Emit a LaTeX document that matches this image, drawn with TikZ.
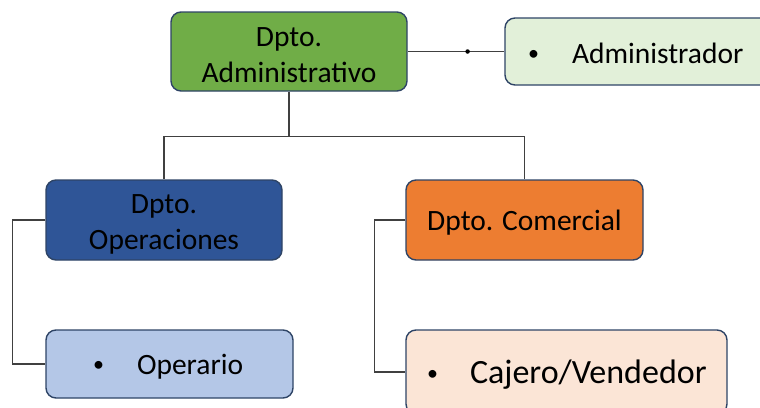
\documentclass[tikz,border=0pt]{standalone}
\usepackage{fontspec}
\setmainfont{Carlito}
\definecolor{boxline}{HTML}{2E4466}
\definecolor{linegray}{HTML}{404040}
\definecolor{admgreen}{HTML}{70AD47}
\definecolor{admlight}{HTML}{E2F0D9}
\definecolor{opblue}{HTML}{2F5597}
\definecolor{oplight}{HTML}{B4C7E7}
\definecolor{comorange}{HTML}{ED7D31}
\definecolor{comlight}{HTML}{FBE5D6}
\newcommand{\itemdot}[1]{\makebox[#1][l]{\raisebox{3pt}{\fontsize{22}{22}\selectfont\textbullet}}}
\newcommand{\topgap}{\rule{0pt}{27pt}}
\begin{document}
\begin{tikzpicture}[x=1pt,y=-1pt,
  dept/.style={draw=boxline,line width=1.4pt,rounded corners=10pt,align=center,inner sep=0pt,
    font=\fontsize{29.5}{36}\selectfont},
  oneline/.style={dept,text height=25pt},
  leaf/.style={oneline,align=left},
  link/.style={draw=linegray,line width=1.2pt},
  joint/.style={circle,fill=black,inner sep=0pt,minimum size=4.5pt}]
\useasboundingbox (0,0) rectangle (760,407);
% departments
\node[dept,fill=admgreen,minimum width=236pt,minimum height=79pt] (adm) at (289,51.5) {\topgap Dpto.\\Administrativo};
\node[dept,fill=opblue,minimum width=236pt,minimum height=80pt] (ops) at (164,220) {\topgap Dpto.\\Operaciones};
\node[oneline,fill=comorange,minimum width=237pt,minimum height=80pt] (com) at (524.5,220) {Dpto. Comercial};
% roles
\node[leaf,fill=admlight,inner xsep=23pt,text width=224pt,minimum height=67pt] (admrole) at (640,51.5) {\itemdot{44pt}Administrador};
\node[leaf,fill=oplight,inner xsep=47pt,text width=153pt,minimum height=68pt] (oprole) at (169.5,364) {\itemdot{44pt}Operario};
\node[leaf,fill=comlight,inner xsep=21pt,text width=279pt,minimum height=84pt,text height=29pt,
  font=\fontsize{34}{40}\selectfont] (comrole) at (566.5,372) {\itemdot{43pt}Cajero/Vendedor};
% connectors
\coordinate (bus) at ([yshift=-44.5pt]adm.south);
\draw[link] (adm.east) -- node[joint,pos=0.62] (knot) {} (admrole.west);
\draw[link] (adm.south) -- (bus) -| (ops.north);
\draw[link] (bus) -| (com.north);
\draw[link] (ops.west) -- ++(-33,0) |- (oprole.west);
\draw[link] (com.west) -- ++(-31,0) |- (comrole.west);
\end{tikzpicture}
\end{document}
